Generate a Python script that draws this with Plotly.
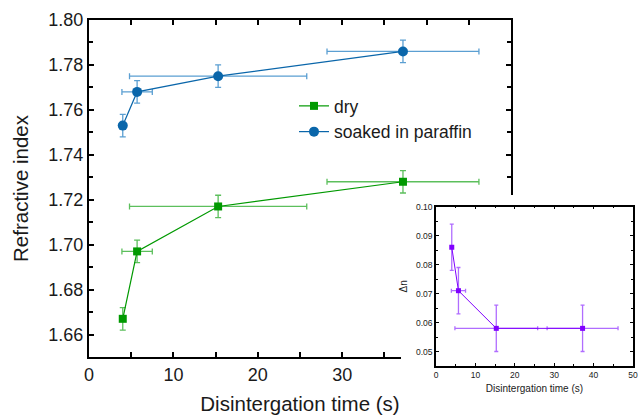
import plotly.graph_objects as go

# ---- data ----
time_s = [4.0, 5.7, 15.3, 37.2]
time_err = [0.0, 1.8, 10.5, 9.0]
n_dry = [1.667, 1.697, 1.717, 1.728]
n_dry_err = [0.005, 0.005, 0.005, 0.005]
n_soaked = [1.753, 1.768, 1.775, 1.786]
n_soaked_err = [0.005, 0.005, 0.005, 0.005]
delta_n = [0.086, 0.071, 0.058, 0.058]
delta_n_err = [0.008, 0.008, 0.008, 0.008]
main_x_ticks = [0, 10, 20, 30, 40, 50]
main_x_labels = ["0", "10", "20", "30", "", ""]

W, H = 640, 415
FONT = "Liberation Sans, Arial, sans-serif"
INK = "#1a1a1a"

def px_x(a, b):
    return [a / W, b / W]

def px_y(top, bottom):
    return [(H - bottom) / H, (H - top) / H]

fig = go.Figure()

# main plot traces
fig.add_trace(go.Scatter(
    x=time_s, y=n_dry, name="dry", mode="lines+markers",
    line=dict(color="#009900", width=1.2),
    marker=dict(symbol="square", size=8, color="#009900"),
    error_y=dict(type="data", array=n_dry_err, color="#5cbf5c", thickness=1.3, width=3),
    error_x=dict(type="data", array=time_err, color="#5cbf5c", thickness=1.3, width=3),
    xaxis="x", yaxis="y"))
fig.add_trace(go.Scatter(
    x=time_s, y=n_soaked, name="soaked in paraffin", mode="lines+markers",
    line=dict(color="#0a66aa", width=1.2),
    marker=dict(symbol="circle", size=10, color="#0a66aa"),
    error_y=dict(type="data", array=n_soaked_err, color="#5b9fd2", thickness=1.3, width=3),
    error_x=dict(type="data", array=time_err, color="#5b9fd2", thickness=1.3, width=3),
    xaxis="x", yaxis="y"))

# white backdrop subplot for the inset (no data)
fig.add_trace(go.Scatter(x=[], y=[], xaxis="x2", yaxis="y2", showlegend=False, hoverinfo="skip"))

# inset trace
fig.add_trace(go.Scatter(
    x=time_s, y=delta_n, mode="lines+markers", showlegend=False,
    line=dict(color="#8000ff", width=1),
    marker=dict(symbol="square", size=5, color="#8000ff"),
    error_y=dict(type="data", array=delta_n_err, color="#b06dff", thickness=1.3, width=2),
    error_x=dict(type="data", array=time_err, color="#b06dff", thickness=1.3, width=2),
    xaxis="x3", yaxis="y3"))

axis_common = dict(showline=True, linecolor="black", mirror="allticks", ticks="inside",
                   tickcolor="black", showgrid=False, zeroline=False, automargin=False)
main_tf = dict(size=18, family=FONT, color=INK)
inset_tf = dict(size=8.5, family=FONT, color=INK)

fig.update_layout(
    width=W, height=H, margin=dict(l=0, r=0, t=0, b=0, autoexpand=False),
    paper_bgcolor="white", plot_bgcolor="white",
    font=dict(family=FONT, color=INK),
    showlegend=True,
    legend=dict(x=294 / W, y=(H - 88) / H, xanchor="left", yanchor="top",
                bgcolor="rgba(0,0,0,0)", font=dict(size=17.5, family=FONT, color=INK),
                tracegroupgap=0),
    xaxis=dict(domain=px_x(89, 511), range=[0, 50], tickmode="array",
               tickvals=main_x_ticks, ticktext=main_x_labels, tickfont=main_tf,
               ticklen=5, tickwidth=1.5, linewidth=2,
               minor=dict(dtick=5, ticks="inside", ticklen=5, tickcolor="black", tickwidth=1.5),
               title=dict(text="Disintergation time (s)", font=dict(size=20.5, family=FONT, color=INK), standoff=14),
               anchor="y", **axis_common),
    yaxis=dict(domain=px_y(20, 357), range=[1.65, 1.80], dtick=0.02, tick0=1.66, tickformat=".2f",
               tickfont=main_tf,
               ticklen=5, tickwidth=1.5, linewidth=2,
               minor=dict(dtick=0.01, ticks="inside", ticklen=4, tickcolor="black", tickwidth=1.5),
               title=dict(text="Refractive index", font=dict(size=20.5, family=FONT, color=INK), standoff=14),
               anchor="x", **axis_common),
    xaxis2=dict(domain=px_x(401, 640), visible=False, anchor="y2", range=[0, 1], automargin=False),
    yaxis2=dict(domain=px_y(195, 415), visible=False, anchor="x2", range=[0, 1], automargin=False),
    xaxis3=dict(domain=px_x(436, 633), range=[0, 50], dtick=10, tick0=0, tickfont=inset_tf,
                ticklen=3, tickwidth=1, linewidth=1.5, ticklabeloverflow="allow",
                minor=dict(dtick=5, ticks="inside", ticklen=2, tickcolor="black", tickwidth=1),
                title=dict(text="Disintergation time (s)", font=dict(size=10, family=FONT, color=INK), standoff=6),
                anchor="y3", **axis_common),
    yaxis3=dict(domain=px_y(206.7, 366), range=[0.045, 0.10], dtick=0.01, tick0=0.05, tickformat=".2f",
                tickfont=inset_tf,
                ticklen=3, tickwidth=1, linewidth=1.5,
                minor=dict(dtick=0.005, ticks="inside", ticklen=2, tickcolor="black", tickwidth=1),
                title=dict(text="Δn", font=dict(size=10, family=FONT, color=INK), standoff=6),
                anchor="x3", **axis_common),
)

fig.write_html("out.html")
